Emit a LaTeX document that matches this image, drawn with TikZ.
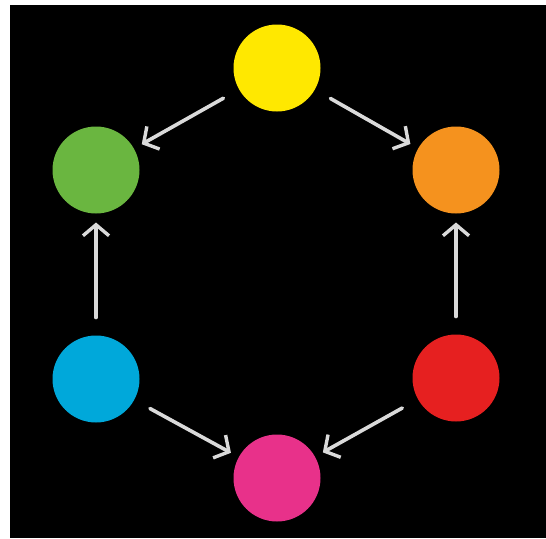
\documentclass[tikz,border=0pt]{standalone}
\usetikzlibrary{arrows.meta}
\definecolor{cyel}{HTML}{FFE800}
\definecolor{cgrn}{HTML}{6AB640}
\definecolor{corg}{HTML}{F5921E}
\definecolor{cblu}{HTML}{00A8DA}
\definecolor{cred}{HTML}{E62020}
\definecolor{cmag}{HTML}{E8318A}
\definecolor{carr}{HTML}{DADADA}
\begin{document}
\begin{tikzpicture}[x=1pt,y=-1pt,
  dot/.style={circle,minimum size=87pt,inner sep=0pt,outer sep=0pt},
  arr/.style={draw=carr,line width=3.6pt,line cap=round,
    -{Straight Barb[length=11pt,width=26pt,line width=3.4pt]},
    shorten <=18pt, shorten >=9pt}]
\useasboundingbox (0,0) rectangle (546,538);
\fill[white] (0,0) rectangle (546,538);
\fill[black] (10,5) rectangle (546,538);
\node[dot,fill=cyel] (y) at (277,68) {};
\node[dot,fill=cgrn] (g) at (96,170) {};
\node[dot,fill=corg] (o) at (456,170) {};
\node[dot,fill=cblu] (b) at (96,379) {};
\node[dot,fill=cred] (r) at (456,378) {};
\node[dot,fill=cmag] (m) at (277,478) {};
\draw[arr] (y) -- (g);
\draw[arr] (y) -- (o);
\draw[arr] (b) -- (g);
\draw[arr] (r) -- (o);
\draw[arr] (b) -- (m);
\draw[arr] (r) -- (m);
\end{tikzpicture}
\end{document}
